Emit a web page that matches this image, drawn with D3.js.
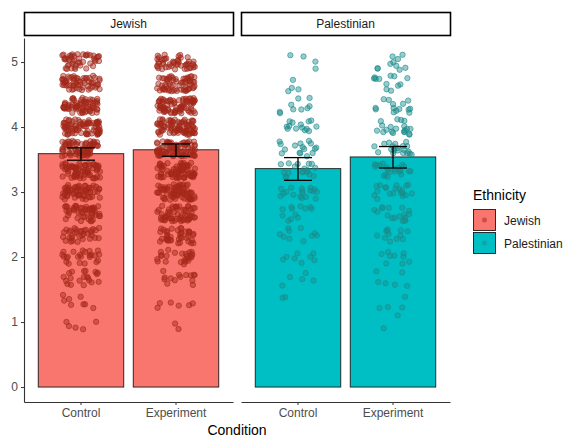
<!DOCTYPE html>
<html>
<head>
<meta charset="utf-8">
<script src="https://cdn.jsdelivr.net/npm/d3@7"></script>
<style>
  body { margin: 0; background: #fff; }
  text { font-family: "Liberation Sans", Arial, sans-serif; }
</style>
</head>
<body>
<div id="chart"></div>
<script>
// facets / conditions
const ethnicities = ['Jewish', 'Palestinian'];
const conditions = ['Control', 'Experiment'];
const yTicks = [0, 1, 2, 3, 4, 5];

// bar means and error bar limits
const jewishMeans = [3.59, 3.65];
const jewishLow = [3.49, 3.55];
const jewishHigh = [3.68, 3.74];
const palestinianMeans = [3.36, 3.54];
const palestinianLow = [3.18, 3.37];
const palestinianHigh = [3.53, 3.70];

// response levels (means of 3 items) and how many people sit on each
const levels = [1.0, 1.33, 1.67, 2.0, 2.33, 2.67, 3.0, 3.33, 3.67, 4.0, 4.33, 4.67, 5.0];
const jewishControlCounts = [5, 8, 20, 24, 34, 48, 58, 68, 74, 80, 70, 60, 45];
const jewishExperimentCounts = [2, 6, 14, 24, 40, 56, 66, 72, 80, 86, 80, 64, 48];
const palestinianControlCounts = [0, 2, 5, 8, 10, 12, 18, 18, 16, 14, 9, 4, 4];
const palestinianExperimentCounts = [2, 4, 6, 9, 12, 17, 20, 21, 21, 20, 14, 12, 10];

const FILL = {Jewish: '#F8766D', Palestinian: '#00BFC4'};
const POINT = {Jewish: '#a3281a', Palestinian: '#1b8c8c'};

const W = 568, H = 438;
const PANELS = [{x0: 24, x1: 233}, {x0: 241, x1: 450}];
const PANEL_TOP = 38, PANEL_BOTTOM = 402;

const svg = d3.select('#chart').append('svg')
  .attr('width', W).attr('height', H);

const y = d3.scaleLinear().domain([-0.23, 5.37]).range([PANEL_BOTTOM, PANEL_TOP]);

const groups = {
  Jewish: {means: jewishMeans, low: jewishLow, high: jewishHigh,
    counts: [jewishControlCounts, jewishExperimentCounts]},
  Palestinian: {means: palestinianMeans, low: palestinianLow, high: palestinianHigh,
    counts: [palestinianControlCounts, palestinianExperimentCounts]}
};

// deterministic hash offsets in [-1, 1], only used to spread points like geom_jitter
function hash(n) {
  const s = Math.sin(n * 12.9898 + 78.233) * 43758.5453;
  return (s - Math.floor(s)) * 2 - 1;
}
function jitter(i, k) {
  return [hash(i * 3.1 + k * 1000.7), hash(i * 7.7 + k * 517.3 + 0.5)];
}

ethnicities.forEach(function (eth, pi) {
  const p = PANELS[pi];
  const g = groups[eth];
  const x = d3.scaleBand().domain(conditions)
    .range([p.x0, p.x1]).paddingInner(0.1).paddingOuter(0.15);
  const step = x.step();
  const panel = svg.append('g');

  // strip
  panel.append('rect')
    .attr('x', p.x0 + 0.5).attr('y', 12.5)
    .attr('width', p.x1 - p.x0).attr('height', 23)
    .attr('fill', '#fff').attr('stroke', '#000').attr('stroke-width', 1.6);
  panel.append('text')
    .attr('x', (p.x0 + p.x1) / 2).attr('y', 28)
    .attr('text-anchor', 'middle')
    .style('font-size', '12px').style('fill', '#1a1a1a')
    .text(eth);

  // bars
  panel.selectAll('.bar').data(conditions).enter().append('rect')
    .attr('class', 'bar')
    .attr('x', function (d) {return x(d);})
    .attr('width', x.bandwidth())
    .attr('y', function (d, i) {return y(g.means[i]);})
    .attr('height', function (d, i) {return y(0) - y(g.means[i]);})
    .attr('fill', FILL[eth])
    .attr('stroke', '#1a1a1a').attr('stroke-width', 0.9);

  // jittered points
  conditions.forEach(function (c, ci) {
    const pts = [];
    const cx = x(c) + x.bandwidth() / 2;
    g.counts[ci].forEach(function (n, li) {
      for (let j = 0; j < n; j++) pts.push(levels[li]);
    });
    panel.append('g').selectAll('circle').data(pts).enter().append('circle')
      .attr('cx', function (d, i) {return cx + jitter(i, ci + pi * 2)[0] * step * 0.2;})
      .attr('cy', function (d, i) {return y(d + jitter(i, ci + pi * 2)[1] * 0.12);})
      .attr('r', 2.7)
      .attr('fill', POINT[eth]).attr('fill-opacity', 0.45)
      .attr('stroke', POINT[eth]).attr('stroke-opacity', 0.75).attr('stroke-width', 0.8);
  });

  // error bars
  const eb = panel.selectAll('.eb').data(conditions).enter().append('g').attr('class', 'eb')
    .attr('transform', function (d) {return 'translate(' + (x(d) + x.bandwidth() / 2) + ',0)';});
  eb.append('line')
    .attr('y1', function (d, i) {return y(g.low[i]);})
    .attr('y2', function (d, i) {return y(g.high[i]);})
    .attr('stroke', '#000').attr('stroke-width', 1.3);
  [g.low, g.high].forEach(function (arr) {
    eb.append('line')
      .attr('x1', -14).attr('x2', 14)
      .attr('y1', function (d, i) {return y(arr[i]);})
      .attr('y2', function (d, i) {return y(arr[i]);})
      .attr('stroke', '#000').attr('stroke-width', 1.3);
  });

  // x axis
  const xAxis = panel.append('g')
    .attr('transform', 'translate(0,' + PANEL_BOTTOM + ')')
    .call(d3.axisBottom(x).tickSize(3).tickSizeOuter(0));
  xAxis.select('.domain').attr('stroke', '#333').attr('stroke-width', 1.1);
  xAxis.selectAll('.tick line').attr('stroke', '#333');
  xAxis.selectAll('text').attr('dy', '0.71em').attr('y', 6)
    .style('font-size', '12px').style('fill', '#4d4d4d').style('font-family', 'Liberation Sans, Arial, sans-serif');

  if (pi === 0) {
    const yAxis = panel.append('g')
      .attr('transform', 'translate(' + p.x0 + ',0)')
      .call(d3.axisLeft(y).tickValues(yTicks).tickFormat(d3.format('d')).tickSize(3).tickSizeOuter(0));
    yAxis.select('.domain').attr('stroke', '#333').attr('stroke-width', 1.1);
    yAxis.selectAll('.tick line').attr('stroke', '#333');
    yAxis.selectAll('text').attr('x', -6)
      .style('font-size', '12px').style('fill', '#4d4d4d').style('font-family', 'Liberation Sans, Arial, sans-serif');
  }
});

// x title
svg.append('text')
  .attr('x', 237).attr('y', 435)
  .attr('text-anchor', 'middle')
  .style('font-size', '14px').style('fill', '#000')
  .text('Condition');

// legend
const legend = svg.append('g').attr('transform', 'translate(473,0)');
legend.append('text')
  .attr('x', 0).attr('y', 200)
  .style('font-size', '14px').style('fill', '#000')
  .text('Ethnicity');
ethnicities.forEach(function (eth, i) {
  const ky = 209 + i * 23;
  legend.append('rect')
    .attr('x', 0.5).attr('y', ky + 0.5).attr('width', 22).attr('height', 21)
    .attr('fill', FILL[eth]).attr('stroke', '#1a1a1a').attr('stroke-width', 0.9);
  legend.append('circle')
    .attr('cx', 11.5).attr('cy', ky + 11)
    .attr('r', 2.5).attr('fill', POINT[eth]).attr('fill-opacity', 0.5);
  legend.append('text')
    .attr('x', 31).attr('y', ky + 15.5)
    .style('font-size', '12px').style('fill', '#1a1a1a')
    .text(eth);
});
</script>
</body>
</html>
